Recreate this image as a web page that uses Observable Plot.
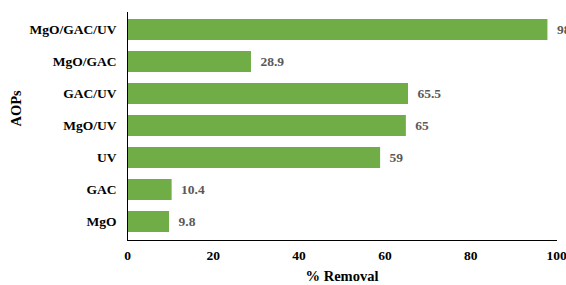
<!DOCTYPE html>
<html>
<head>
<meta charset="utf-8">
<script src="https://cdn.jsdelivr.net/npm/d3@7"></script>
<script src="https://cdn.jsdelivr.net/npm/@observablehq/plot@0.6"></script>
<style>
  html, body { margin: 0; padding: 0; background: #fff; }
  #chart svg { display: block; }
</style>
</head>
<body>
<div id="chart"></div>
<script>
const categories = ["MgO/GAC/UV", "MgO/GAC", "GAC/UV", "MgO/UV", "UV", "GAC", "MgO"];
const removal = [98, 28.9, 65.5, 65, 59, 10.4, 9.8];
const xTicks = [0, 20, 40, 60, 80, 100];
const xTitle = "% Removal";
const yTitle = "AOPs";

const data = categories.map((c, i) => ({aop: c, value: removal[i]}));

const chart = Plot.plot({
  width: 566,
  height: 285,
  marginLeft: 127,
  marginRight: 10,
  marginTop: 12,
  marginBottom: 45,
  style: {fontFamily: "'Liberation Serif', 'Times New Roman', serif", fontSize: "13.5px", fontWeight: "bold", color: "#000", background: "#fff", overflow: "visible"},
  x: {domain: [0, 100], ticks: xTicks, tickSize: 0, tickPadding: 10, label: null, tickFormat: d => d},
  y: {domain: categories, paddingInner: 0.33, paddingOuter: 0.12, tickSize: 0, tickPadding: 11, label: null},
  marks: [
    Plot.barX(data, {x: "value", y: "aop", fill: "#70AD47"}),
    Plot.text(data, {x: "value", y: "aop", text: d => String(d.value), dx: 9, textAnchor: "start", fill: "#595959", fontSize: 13.5, fontWeight: "bold"}),
    Plot.frame({anchor: "left", stroke: "#000"}),
    Plot.frame({anchor: "bottom", stroke: "#000"}),
    Plot.text([xTitle], {frameAnchor: "bottom", text: d => d, dy: 40, fontSize: 14.5, fontWeight: "bold", fill: "#000"}),
    Plot.text([yTitle], {frameAnchor: "left", text: d => d, dx: -111, rotate: -90, fontSize: 14.5, fontWeight: "bold", fill: "#000"})
  ]
});
document.getElementById("chart").appendChild(chart);
</script>
</body>
</html>
